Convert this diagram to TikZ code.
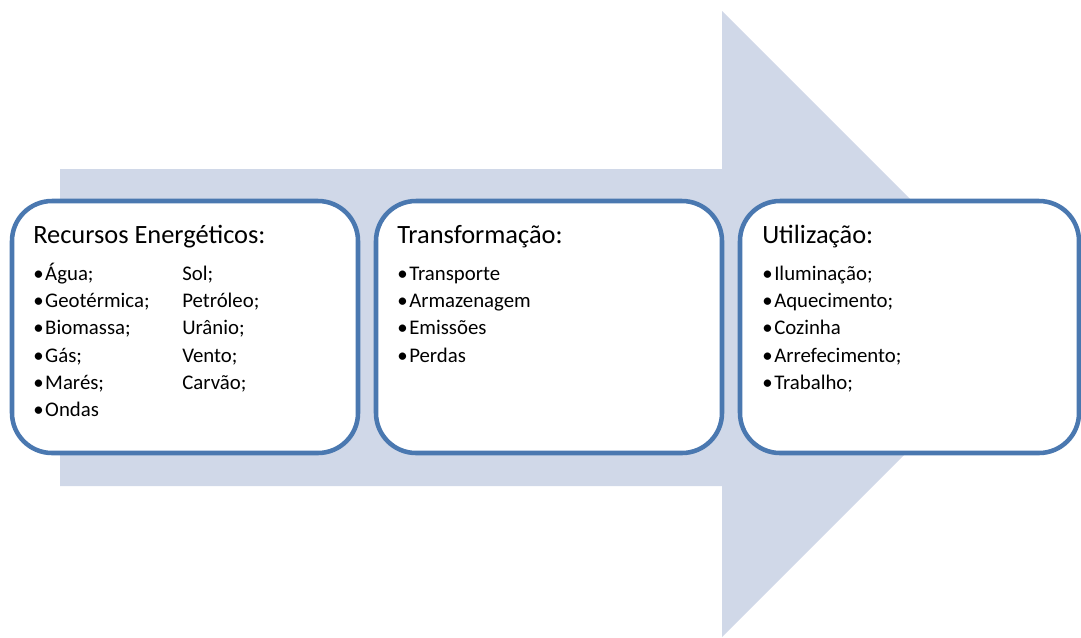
\documentclass[tikz,border=0pt]{standalone}
\usepackage{fontspec}
\setmainfont{Carlito}
\usepackage{xcolor}
\usetikzlibrary{positioning}
\definecolor{flowfill}{RGB}{208,216,232}
\definecolor{stageblue}{RGB}{74,120,176}
\newcommand{\itm}[1]{\makebox[9pt][l]{\textbullet}#1}

\begin{document}
\begin{tikzpicture}[
    x=0.75pt, y=-0.75pt,
    stage/.style={rectangle, draw=stageblue, line width=3.4pt, fill=white, rounded corners=30pt, minimum width=259.5pt, minimum height=189pt, inner sep=0pt, outer sep=0pt},
    heading/.style={anchor=base west, inner sep=0pt, font=\fontsize{19.8}{23}\selectfont},
    itemlist/.style={anchor=base west, inner sep=0pt, font=\fontsize{15.6}{20.5}\selectfont}
]
    \useasboundingbox (0,0) rectangle (1081,637);
    % big arrow behind the three stages
    \fill[flowfill] (60,169) -- (722,169) -- (722,11) -- (1035,324) -- (722,637) -- (722,486) -- (60,486) -- cycle;

    \node[stage] (recursos) at (185,327) {};
    \node[stage, right=13.5pt of recursos] (transf) {};
    \node[stage, minimum width=254.25pt, right=13.5pt of transf] (util) {};

    \node[heading] (recursostitle) at ([shift={(21,42)}]recursos.north west) {Recursos Energéticos:};
    \node[itemlist] (recursosa) at ([shift={(21,79)}]recursos.north west) {\begin{tabular}[t]{@{}l@{}}
        \itm{Água;}\\ \itm{Geotérmica;}\\ \itm{Biomassa;}\\ \itm{Gás;}\\ \itm{Marés;}\\ \itm{Ondas}
    \end{tabular}};
    \node[itemlist] (recursosb) at ([shift={(170,79)}]recursos.north west) {\begin{tabular}[t]{@{}l@{}}
        Sol;\\ Petróleo;\\ Urânio;\\ Vento;\\ Carvão;
    \end{tabular}};

    \node[heading] (transftitle) at ([shift={(21,42)}]transf.north west) {Transformação:};
    \node[itemlist] (transflist) at ([shift={(21,79)}]transf.north west) {\begin{tabular}[t]{@{}l@{}}
        \itm{Transporte}\\ \itm{Armazenagem}\\ \itm{Emissões}\\ \itm{Perdas}
    \end{tabular}};

    \node[heading] (utiltitle) at ([shift={(22,42)}]util.north west) {Utilização:};
    \node[itemlist] (utillist) at ([shift={(22,79)}]util.north west) {\begin{tabular}[t]{@{}l@{}}
        \itm{Iluminação;}\\ \itm{Aquecimento;}\\ \itm{Cozinha}\\ \itm{Arrefecimento;}\\ \itm{Trabalho;}
    \end{tabular}};
\end{tikzpicture}
\end{document}
